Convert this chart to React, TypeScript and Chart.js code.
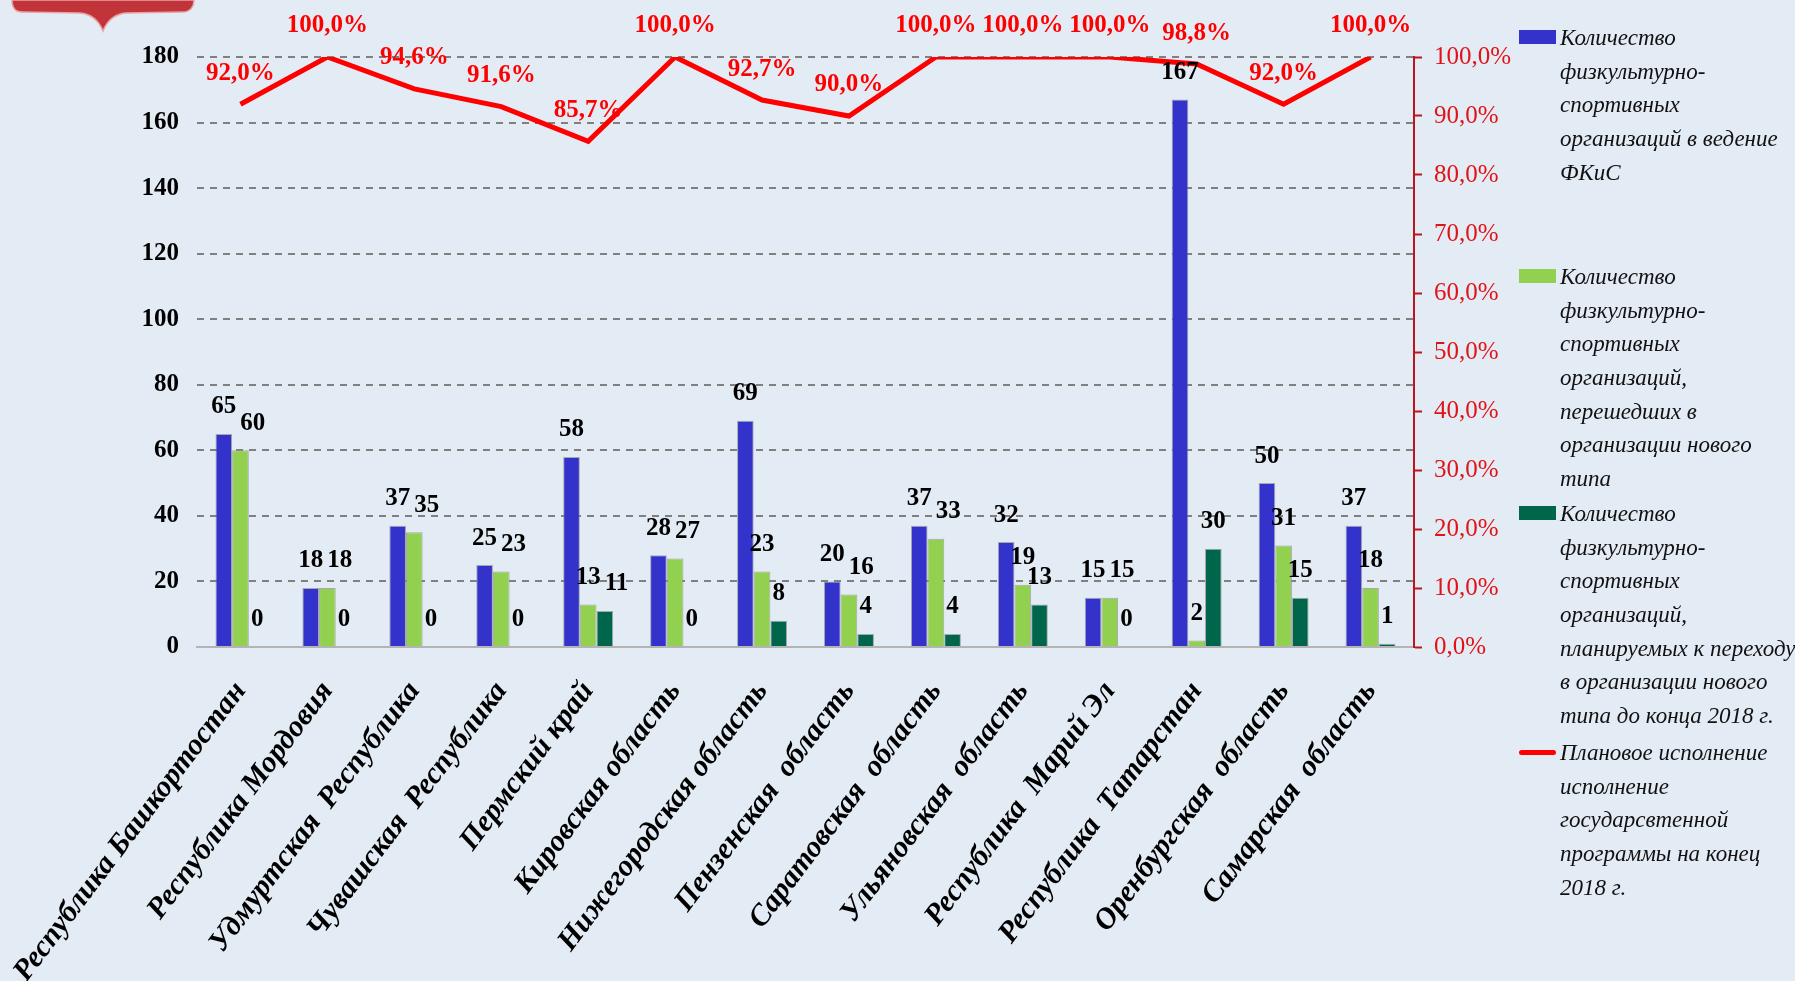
import React, { useEffect, useRef } from 'react';
import { Chart, registerables } from 'chart.js';

Chart.register(...registerables);

const categories = [
  'Республика Башкортостан',
  'Республика Мордовия',
  'Удмуртская  Республика',
  'Чувашская  Республика',
  'Пермский край',
  'Кировская область',
  'Нижегородская область',
  'Пензенская  область',
  'Саратовская  область',
  'Ульяновская  область',
  'Республика  Марий Эл',
  'Республика  Татарстан',
  'Оренбургская  область',
  'Самарская  область',
];

const orgsInFKiS = [65, 18, 37, 25, 58, 28, 69, 20, 37, 32, 15, 167, 50, 37];
const orgsTransferred = [60, 18, 35, 23, 13, 27, 23, 16, 33, 19, 15, 2, 31, 18];
const orgsPlanned = [0, 0, 0, 0, 11, 0, 8, 4, 4, 13, 0, 30, 15, 1];
const planPercent = [92.0, 100.0, 94.6, 91.6, 85.7, 100.0, 92.7, 90.0, 100.0, 100.0, 100.0, 98.8, 92.0, 100.0];

const seriesNames = [
  'Количество физкультурно-спортивных организаций в ведение ФКиС',
  'Количество физкультурно-спортивных организаций, перешедших в организации нового типа',
  'Количество физкультурно-спортивных организаций, планируемых к переходу в организации нового типа до конца 2018 г.',
  'Плановое исполнение исполнение государсвтенной программы на конец 2018 г.',
];

const legendLines = [
  ['Количество', 'физкультурно-', 'спортивных', 'организаций в ведение', 'ФКиС'],
  ['Количество', 'физкультурно-', 'спортивных', 'организаций,', 'перешедших в', 'организации нового', 'типа'],
  ['Количество', 'физкультурно-', 'спортивных', 'организаций,', 'планируемых к переходу', 'в организации нового', 'типа до конца 2018 г.'],
  ['Плановое исполнение', 'исполнение', 'государсвтенной', 'программы на конец', '2018 г.'],
];

const COLORS = {
  bg: '#e3ebf5',
  blue: '#3333cc',
  green: '#92d050',
  dark: '#00664b',
  line: '#ff0000',
  rightAxis: '#c0141c',
  rightText: '#e01418',
  grid: '#808080',
};

const SERIF = '"Liberation Serif", "Times New Roman", Times, serif';

const W = 1795;
const H = 981;
const PLOT_LEFT = 197;
const PLOT_RIGHT = 1414;
const PLOT_TOP = 57;
const PLOT_BOTTOM = 647;

const fmtPct = (v: number) => v.toFixed(1).replace('.', ',') + '%';

const labelPlugin = {
  id: 'valueLabels',
  afterDatasetsDraw(chart: any) {
    const ctx = chart.ctx as CanvasRenderingContext2D;
    ctx.save();
    ctx.textAlign = 'center';
    ctx.textBaseline = 'middle';
    ctx.font = 'bold 25px ' + SERIF;
    ctx.fillStyle = '#000';
    const n = chart.data.labels.length;
    for (let i = 0; i < n; i++) {
      let prev: { y: number; right: number } | null = null;
      for (let d = 0; d < 3; d++) {
        const el = chart.getDatasetMeta(d).data[i];
        const v = chart.data.datasets[d].data[i];
        const txt = String(v);
        const w = ctx.measureText(txt).width;
        let x = el.x;
        const y = el.y - 27;
        if (prev && Math.abs(prev.y - y) < 18 && x - w / 2 < prev.right + 4) {
          x = prev.right + 4 + w / 2;
        }
        ctx.fillText(txt, x, y);
        prev = { y, right: x + w / 2 };
      }
    }
    ctx.font = 'bold 25px ' + SERIF;
    ctx.fillStyle = COLORS.line;
    const lm = chart.getDatasetMeta(3);
    lm.data.forEach((pt: any, i: number) => {
      ctx.fillText(fmtPct(chart.data.datasets[3].data[i]), pt.x, pt.y - 31);
    });
    ctx.restore();
  },
};

export default function App() {
  const ref = useRef<HTMLCanvasElement | null>(null);

  useEffect(() => {
    document.body.style.margin = '0';
    document.body.style.overflow = 'hidden';
    document.body.style.background = COLORS.bg;
    const canvas = ref.current;
    if (!canvas) return;
    const barCommon = {
      type: 'bar' as const,
      borderColor: 'rgba(140,140,140,0.7)',
      borderWidth: 1,
      categoryPercentage: 0.575,
      barPercentage: 1,
      yAxisID: 'y',
      order: 1,
    };
    const chart = new Chart(canvas, {
      type: 'bar',
      data: {
        labels: categories,
        datasets: [
          { ...barCommon, label: seriesNames[0], data: orgsInFKiS, backgroundColor: COLORS.blue },
          { ...barCommon, label: seriesNames[1], data: orgsTransferred, backgroundColor: COLORS.green },
          { ...barCommon, label: seriesNames[2], data: orgsPlanned, backgroundColor: COLORS.dark },
          {
            type: 'line' as const,
            label: seriesNames[3],
            data: planPercent,
            borderColor: COLORS.line,
            backgroundColor: COLORS.line,
            borderWidth: 5,
            pointRadius: 0,
            tension: 0,
            yAxisID: 'y1',
            order: 0,
          } as any,
        ],
      },
      options: {
        animation: false,
        responsive: true,
        maintainAspectRatio: false,
        layout: { padding: { top: PLOT_TOP, left: 0, right: 0, bottom: 0 } },
        plugins: {
          legend: { display: false },
          tooltip: { enabled: false },
        },
        scales: {
          x: {
            grid: { display: false },
            border: { display: true, color: '#b4b4b4', width: 2 },
            ticks: {
              autoSkip: false,
              minRotation: 53,
              maxRotation: 53,
              padding: 20,
              color: '#000',
              font: { family: SERIF, size: 30, weight: 'bold', style: 'italic' },
            },
            afterFit: (s: any) => {
              s.height = H - PLOT_BOTTOM;
              s.paddingLeft = 0;
              s.paddingRight = 0;
            },
          },
          y: {
            position: 'left',
            min: 0,
            max: 180,
            ticks: {
              stepSize: 20,
              padding: 18,
              color: '#000',
              font: { family: SERIF, size: 25, weight: 'bold' },
            },
            grid: {
              drawTicks: false,
              lineWidth: 2,
              color: (c: any) => (c.tick && c.tick.value === 0 ? 'rgba(0,0,0,0)' : COLORS.grid),
            },
            border: { display: false, dash: [7, 6] },
            afterFit: (s: any) => {
              s.width = PLOT_LEFT;
              s.paddingTop = 0;
              s.paddingBottom = 0;
            },
          },
          y1: {
            position: 'right',
            min: 0,
            max: 100,
            ticks: {
              stepSize: 10,
              padding: 12,
              color: COLORS.rightText,
              font: { family: SERIF, size: 25 },
              callback: (v: any) => fmtPct(Number(v)),
            },
            grid: {
              drawOnChartArea: false,
              color: COLORS.rightAxis,
              tickLength: 8,
              tickWidth: 2,
            },
            border: { display: true, color: COLORS.rightAxis, width: 2 },
            afterFit: (s: any) => {
              s.width = W - PLOT_RIGHT;
              s.paddingTop = 0;
              s.paddingBottom = 0;
            },
          },
        },
      } as any,
      plugins: [labelPlugin],
    });
    return () => chart.destroy();
  }, []);

  const firstLineCenters = [38, 277, 514, 753];
  const lineH = 33.6;

  return (
    <div style={{ position: 'relative', width: W, height: H, background: COLORS.bg, overflow: 'hidden' }}>
      <svg width={210} height={40} style={{ position: 'absolute', left: 0, top: 0 }}>
        <path
          d="M12,0 L194,0 C194,7 190,12 183,12 L126,13 C115,14 107,21 103,31 C99,21 91,14 80,13 L22,12 C15,12 12,7 12,0 Z"
          fill="#c1343a"
          stroke="#eaa4a6"
          strokeWidth={1.5}
        />
      </svg>
      <canvas ref={ref} style={{ position: 'absolute', left: 0, top: 0, width: W, height: H }} />
      {legendLines.map((lines, k) => {
        const top = firstLineCenters[k] - lineH / 2;
        const colors = [COLORS.blue, COLORS.green, COLORS.dark, COLORS.line];
        const isLine = k === 3;
        return (
          <div key={k}>
            <div
              style={{
                position: 'absolute',
                left: 1519,
                top: isLine ? firstLineCenters[k] - 3.5 : firstLineCenters[k] - 8,
                width: 37,
                height: isLine ? 5 : 14,
                borderRadius: isLine ? 3 : 0,
                background: colors[k],
              }}
            />
            <div
              style={{
                position: 'absolute',
                left: 1560,
                top,
                fontFamily: SERIF,
                fontStyle: 'italic',
                fontSize: 23,
                lineHeight: lineH + 'px',
                color: '#111',
                whiteSpace: 'nowrap',
              }}
            >
              {lines.map((l, j) => (
                <div key={j}>{l}</div>
              ))}
            </div>
          </div>
        );
      })}
    </div>
  );
}
